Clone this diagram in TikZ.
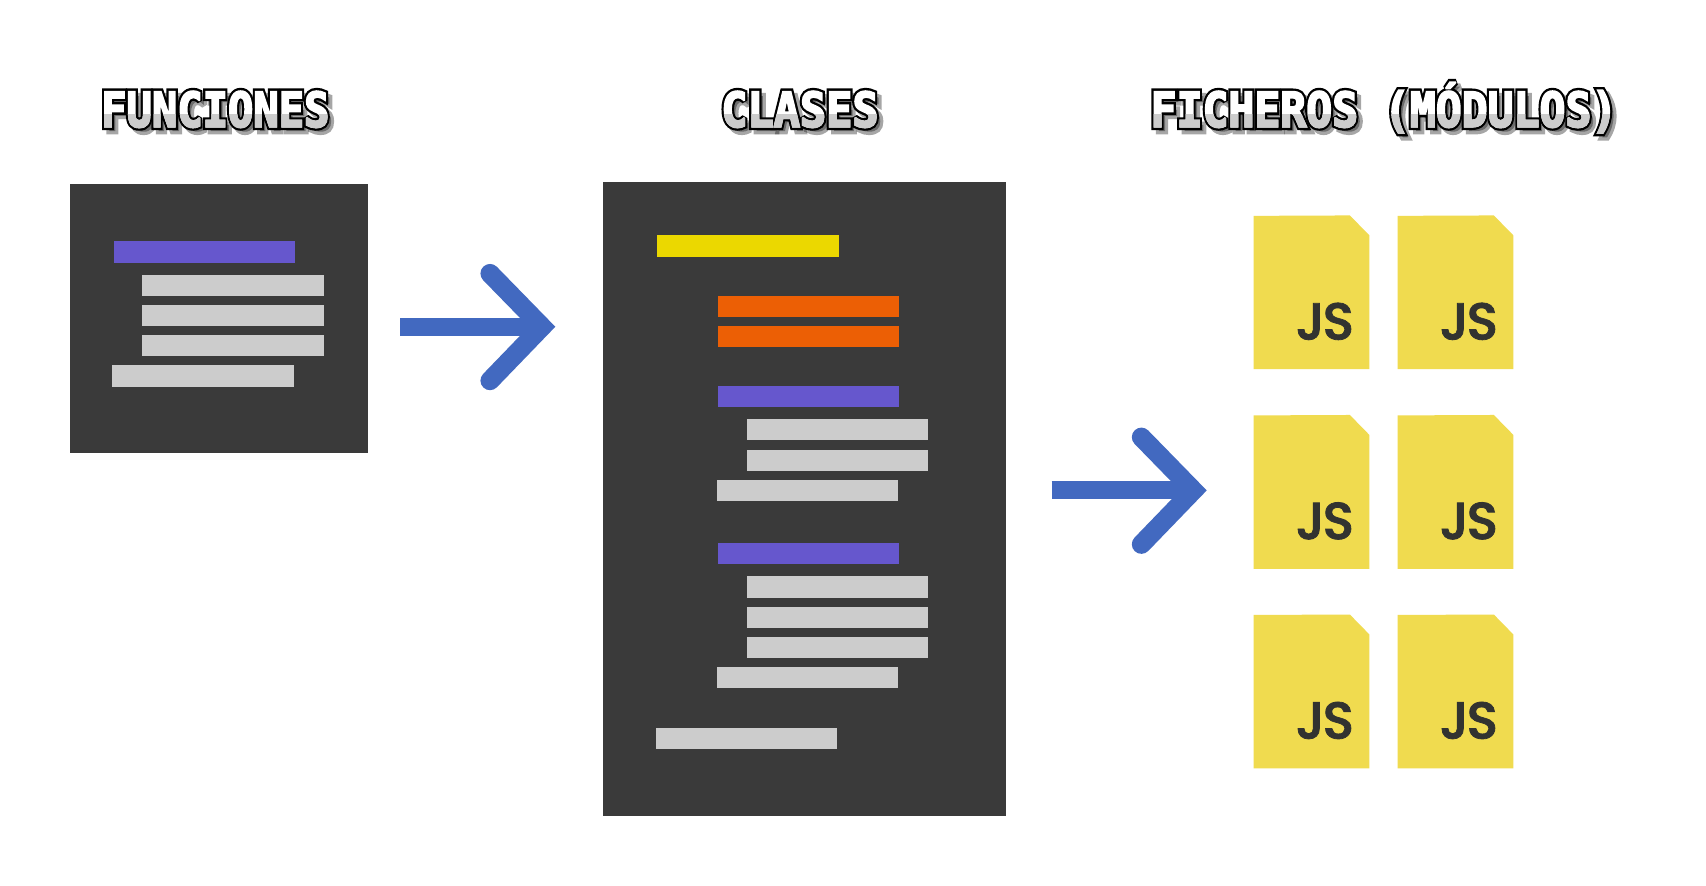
\documentclass[tikz,border=0pt]{standalone}
\usepackage{fontspec}
\setmainfont{DejaVu Sans}
\newfontfamily\pixout[FakeBold=14]{DejaVu Sans Mono Bold}
\newfontfamily\pixin[FakeBold=4]{DejaVu Sans Mono Bold}
\newfontfamily\jsfont[FakeBold=1.5]{Poppins Medium}
\definecolor{panel}{HTML}{3A3A3A}
\definecolor{barpurple}{HTML}{6657CD}
\definecolor{barorange}{HTML}{EC5F05}
\definecolor{baryellow}{HTML}{EBD800}
\definecolor{bargrey}{HTML}{CCCCCC}
\definecolor{arrowblue}{HTML}{4269C0}
\definecolor{fileyellow}{HTML}{F0DB4F}
\definecolor{jsdark}{HTML}{323330}
\tikzset{
  box/.style={anchor=north west,inner sep=0pt,outer sep=0pt,draw=none},
  shaft/.style={draw=arrowblue,line width=8.3pt,line cap=butt},
  chevron/.style={draw=arrowblue,line width=8.8pt,line cap=round,line join=miter},
  titletext/.style={anchor=base,inner sep=0pt,font=\fontsize{22}{22}\selectfont},
  jsmark/.style={inner sep=0pt,text=jsdark,font=\jsfont\fontsize{24}{24}\selectfont},
}
\newcommand\bx[6]{\node[box,fill=#6,minimum width={(#4-#2)*0.5pt},minimum height={(#5-#3)*0.5pt}] (#1) at (#2,#3) {};}
\newcommand\pixtitle[5]{%
  \begin{scope}[miter limit=2]
  \node[titletext,text=black,opacity=.35] at (#2+4,#3+4) {\scalebox{#5}[1]{\pixout #4}};
  \node[titletext,text=black] (#1) at (#2,#3) {\scalebox{#5}[1]{\pixout #4}};
  \node[titletext,text=white] at (#2,#3) {\scalebox{#5}[1]{\pixin #4}};
  \clip (#2-300,105.7) rectangle (#2+300,140);
  \node[titletext,text=bargrey] at (#2,#3) {\scalebox{#5}[1]{\pixin #4}};
  \end{scope}}
\newcommand\jsfile[3]{%
  \fill[fileyellow] (#2,#3) -- (#2+88.5,#3-0.4) -- (#2+106.5,#3+18) -- (#2+106.5,#3+141) -- (#2,#3+141) -- cycle;
  \node[jsmark] (#1) at (#2+65.5,#3+97) {J\kern-1.2pt S};}
\newcommand\bigarrow[3]{%
  \coordinate (#1s) at (#2,#3);
  \coordinate (#1a) at (#2+130.4,#3);
  \coordinate (#1u) at (#2+82.6,#3-49);
  \coordinate (#1d) at (#2+82.6,#3+49.5);
  \draw[shaft] (#1s) -- (#1a);
  \draw[chevron] (#1u) -- (#1a) -- (#1d);}
\begin{document}
\begin{tikzpicture}[x=0.5pt,y=-0.5pt]
\path[use as bounding box,fill=white] (0,0) rectangle (1568.8,814.7);
\pixtitle{t1}{198}{116.5}{FUNCIONES}{.88}
\pixtitle{t2}{735.6}{116.5}{CLASES}{.91}
\pixtitle{t3}{1272.7}{116.5}{FICHEROS (MÓDULOS)}{.9}
% panel 1
\bx{p1}{64}{169}{338}{416.5}{panel}
\bx{a1}{104.5}{222}{271.5}{241.5}{barpurple}
\bx{a2}{131}{252.5}{298}{272}{bargrey}
\bx{a3}{131}{280.5}{298}{300}{bargrey}
\bx{a4}{131}{308}{298}{327.5}{bargrey}
\bx{a5}{103}{336}{270}{355.5}{bargrey}
% panel 2
\bx{p2}{554.5}{167.5}{925.5}{750}{panel}
\bx{b1}{604.5}{216.5}{771.5}{236}{baryellow}
\bx{b2}{660}{272}{827}{291.5}{barorange}
\bx{b3}{660}{299.5}{827}{319}{barorange}
\bx{b4}{660}{355}{827}{374.5}{barpurple}
\bx{b5}{686.5}{385.5}{853.5}{405}{bargrey}
\bx{b6}{686.5}{413.5}{853.5}{433}{bargrey}
\bx{b7}{659}{441}{826}{460.5}{bargrey}
\bx{b8}{660}{499.5}{827}{519}{barpurple}
\bx{b9}{686.5}{530}{853.5}{549.5}{bargrey}
\bx{b10}{686.5}{558}{853.5}{577.5}{bargrey}
\bx{b11}{686.5}{585.5}{853.5}{605}{bargrey}
\bx{b12}{659}{613.5}{826}{633}{bargrey}
\bx{b13}{603}{669}{770}{688.5}{bargrey}
% arrows
\bigarrow{r1}{368}{300.5}
\bigarrow{r2}{967}{451}
% files
\jsfile{f1}{1152.8}{198.5}
\jsfile{f2}{1285.2}{198.5}
\jsfile{f3}{1152.8}{382}
\jsfile{f4}{1285.2}{382}
\jsfile{f5}{1152.8}{565.5}
\jsfile{f6}{1285.2}{565.5}
\end{tikzpicture}
\end{document}
